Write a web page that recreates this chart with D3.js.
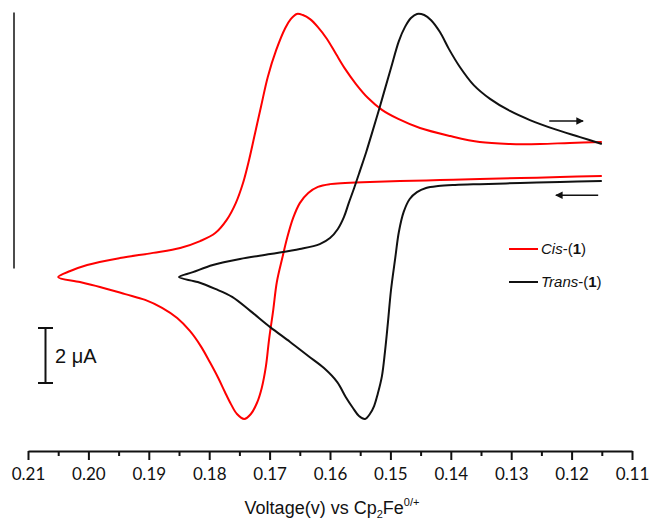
<!DOCTYPE html>
<html>
<head>
<meta charset="utf-8">
<script src="https://cdn.jsdelivr.net/npm/d3@7"></script>
<style>
  body { margin: 0; background: #fff; }
  svg { display: block; }
  .tick-label { font-family: Lato, "Open Sans", sans-serif; font-size: 17px; fill: #111; }
  .axis-title { font-family: "Liberation Sans", Arial, sans-serif; font-size: 18px; fill: #111; }
  .legend { font-family: "Liberation Sans", Arial, sans-serif; font-size: 15px; fill: #111; }
</style>
</head>
<body>
<svg id="chart" width="649" height="523"></svg>
<script>
// Cis-(1): voltage (V) and current (uA), lower branch right->left then upper branch back
const cisV = [0.1150,0.1219,0.1285,0.1352,0.1418,0.1484,0.1534,0.1575,0.1600,0.1620,
  0.1636,0.1650,0.1661,0.1671,0.1679,0.1688,0.1694,0.1701,0.1706,0.1713,
  0.1721,0.1731,0.1742,0.1754,0.1764,0.1774,0.1785,0.1799,0.1814,0.1832,
  0.1853,0.1878,0.1906,0.1939,0.1981,0.2014,0.2050,
  0.2030,0.2002,0.1948,0.1893,0.1848,0.1815,0.1790,0.1771,0.1756,0.1744,
  0.1734,0.1724,0.1714,0.1703,0.1689,0.1674,0.1665,0.1655,0.1645,0.1633,
  0.1620,0.1605,0.1590,0.1575,0.1557,0.1537,0.1514,0.1487,0.1451,0.1401,
  0.1352,0.1302,0.1252,0.1203,0.1150];
const cisI = [3.35,3.31,3.27,3.24,3.20,3.16,3.13,3.09,3.05,2.95,
  2.73,2.36,1.82,1.09,0.36,-0.51,-1.53,-2.62,-3.56,-4.36,
  -4.91,-5.31,-5.49,-5.31,-4.95,-4.51,-4.00,-3.42,-2.84,-2.29,
  -1.82,-1.45,-1.16,-0.95,-0.69,-0.51,-0.33,
  -0.11,0.11,0.36,0.55,0.73,0.98,1.27,1.75,2.36,3.09,
  3.93,4.91,5.89,6.95,7.93,8.73,9.05,9.24,9.20,9.05,
  8.76,8.33,7.78,7.24,6.69,6.18,5.75,5.42,5.09,4.80,
  4.58,4.51,4.51,4.55,4.58];

// Trans-(1)
const transV = [0.1150,0.1219,0.1285,0.1352,0.1393,0.1421,0.1441,0.1456,0.1468,0.1478,
  0.1486,0.1492,0.1499,0.1504,0.1509,0.1514,0.1521,0.1527,0.1534,0.1542,
  0.1552,0.1562,0.1574,0.1588,0.1610,0.1636,0.1666,0.1699,0.1732,0.1762,
  0.1790,0.1819,0.1850,
  0.1827,0.1794,0.1749,0.1699,0.1650,0.1617,0.1600,0.1587,0.1577,0.1569,
  0.1560,0.1550,0.1540,0.1531,0.1521,0.1511,0.1499,0.1486,0.1476,0.1466,
  0.1456,0.1444,0.1433,0.1418,0.1403,0.1385,0.1362,0.1335,0.1302,0.1269,
  0.1228,0.1186,0.1150];
const transI = [3.16,3.13,3.09,3.05,3.02,2.98,2.91,2.76,2.51,2.04,
  1.31,0.36,-0.80,-1.96,-3.05,-3.93,-4.58,-5.02,-5.31,-5.49,
  -5.38,-5.09,-4.69,-4.15,-3.64,-3.20,-2.69,-2.15,-1.56,-1.05,
  -0.76,-0.51,-0.33,
  -0.15,0.11,0.33,0.51,0.69,0.87,1.09,1.42,1.85,2.36,
  2.91,3.56,4.22,4.87,5.60,6.36,7.27,8.25,8.76,9.09,
  9.24,9.20,9.02,8.58,7.96,7.31,6.65,6.15,5.71,5.38,
  5.05,4.76,4.51];

const majorTicks = [0.21,0.20,0.19,0.18,0.17,0.16,0.15,0.14,0.13,0.12,0.11];
const minorTicks = [0.205,0.195,0.185,0.175,0.165,0.155,0.145,0.135,0.125,0.115];
const tickLabels = ['0.21','0.20','0.19','0.18','0.17','0.16','0.15','0.14','0.13','0.12','0.11'];

const seriesNames = ['Cis', 'Trans'];
const seriesColors = ['#ff0000', '#111111'];

// scan direction arrows: [v start, v end, current]
const arrows = [[0.1237, 0.1181, 5.35], [0.1156, 0.1226, 2.65]];
const scaleBarUA = 2;

const svg = d3.select('#chart');
const xScale = d3.scaleLinear().domain([0.21, 0.11]).range([28, 632]);
const yScale = d3.scaleLinear().domain([0, 9.31]).range([268, 12]);
const axisY = 451;

svg.append('defs').append('marker')
  .attr('id', 'head')
  .attr('viewBox', '0 0 10 10')
  .attr('refX', 9).attr('refY', 5)
  .attr('markerWidth', 6.5).attr('markerHeight', 5)
  .attr('markerUnits', 'strokeWidth')
  .attr('orient', 'auto')
  .append('path').attr('d', 'M0,0 L10,5 L0,10 Z').attr('fill', '#111');

// left line (no ticks)
const yAxisG = svg.append('g').attr('transform', 'translate(13.5,0)')
  .call(d3.axisLeft(yScale).ticks(0).tickSizeOuter(0));
yAxisG.select('.domain').attr('stroke', '#111').attr('stroke-width', 1.5);

// bottom axis
const xAxisG = svg.append('g').attr('transform', `translate(0,${axisY})`)
  .call(d3.axisBottom(xScale).tickValues(majorTicks).tickSize(9).tickSizeOuter(0)
    .tickFormat((d, i) => tickLabels[i]));
xAxisG.select('.domain').attr('stroke', '#111').attr('stroke-width', 2.2);
xAxisG.selectAll('.tick line').attr('stroke', '#111').attr('stroke-width', 2);
xAxisG.selectAll('.tick text').attr('class', 'tick-label')
  .attr('y', 29).attr('dy', 0).attr('font-family', null).attr('font-size', null);

const minorG = svg.append('g').attr('transform', `translate(0,${axisY})`)
  .call(d3.axisBottom(xScale).tickValues(minorTicks).tickSize(5).tickSizeOuter(0).tickFormat(''));
minorG.select('.domain').remove();
minorG.selectAll('.tick line').attr('stroke', '#111').attr('stroke-width', 2);

svg.append('text').attr('class', 'axis-title')
  .attr('x', 332).attr('y', 514).attr('text-anchor', 'middle')
  .call(t => {
    t.append('tspan').text('Voltage(v) vs Cp');
    t.append('tspan').attr('font-size', 11).attr('dy', 4).text('2');
    t.append('tspan').attr('dy', -4).text('Fe');
    t.append('tspan').attr('font-size', 11).attr('dy', -8).text('0/+');
  });

// curves
const line = d3.line()
  .x(d => xScale(d[0]))
  .y(d => yScale(d[1]))
  .curve(d3.curveCatmullRom.alpha(0.5));

const series = [d3.zip(cisV, cisI), d3.zip(transV, transI)];
svg.selectAll('path.cv').data(series).enter().append('path')
  .attr('class', 'cv')
  .attr('d', line)
  .attr('fill', 'none')
  .attr('stroke', (d, i) => seriesColors[i])
  .attr('stroke-width', 2)
  .attr('stroke-linejoin', 'round');

// arrows
svg.selectAll('line.arrow').data(arrows).enter().append('line')
  .attr('class', 'arrow')
  .attr('x1', d => xScale(d[0])).attr('x2', d => xScale(d[1]))
  .attr('y1', d => yScale(d[2])).attr('y2', d => yScale(d[2]))
  .attr('stroke', '#111').attr('stroke-width', 1.5)
  .attr('marker-end', 'url(#head)');

// scale bar 2 uA
const barX = 45.5;
const barTop = 328, barBottom = barTop + (yScale(0) - yScale(scaleBarUA));
const bar = svg.append('g').attr('stroke', '#111').attr('stroke-width', 2);
bar.append('line').attr('x1', barX).attr('x2', barX).attr('y1', barTop).attr('y2', barBottom);
bar.append('line').attr('x1', barX - 7.5).attr('x2', barX + 7.5).attr('y1', barTop).attr('y2', barTop);
bar.append('line').attr('x1', barX - 7.5).attr('x2', barX + 7.5).attr('y1', barBottom).attr('y2', barBottom);
svg.append('text').attr('x', 55).attr('y', 363)
  .attr('font-family', '"Liberation Sans", Arial, sans-serif').attr('font-size', 20)
  .attr('fill', '#111').text('2 μA');

// legend
const legend = svg.append('g').attr('class', 'legend');
seriesNames.forEach((name, i) => {
  const y = 249 + i * 33;
  legend.append('line').attr('x1', 509).attr('x2', 538).attr('y1', y).attr('y2', y)
    .attr('stroke', seriesColors[i]).attr('stroke-width', 2);
  const t = legend.append('text').attr('x', 541).attr('y', y + 5);
  t.append('tspan').attr('font-style', 'italic').text(name);
  t.append('tspan').text('-(');
  t.append('tspan').attr('font-weight', 'bold').text('1');
  t.append('tspan').text(')');
});
</script>
</body>
</html>
